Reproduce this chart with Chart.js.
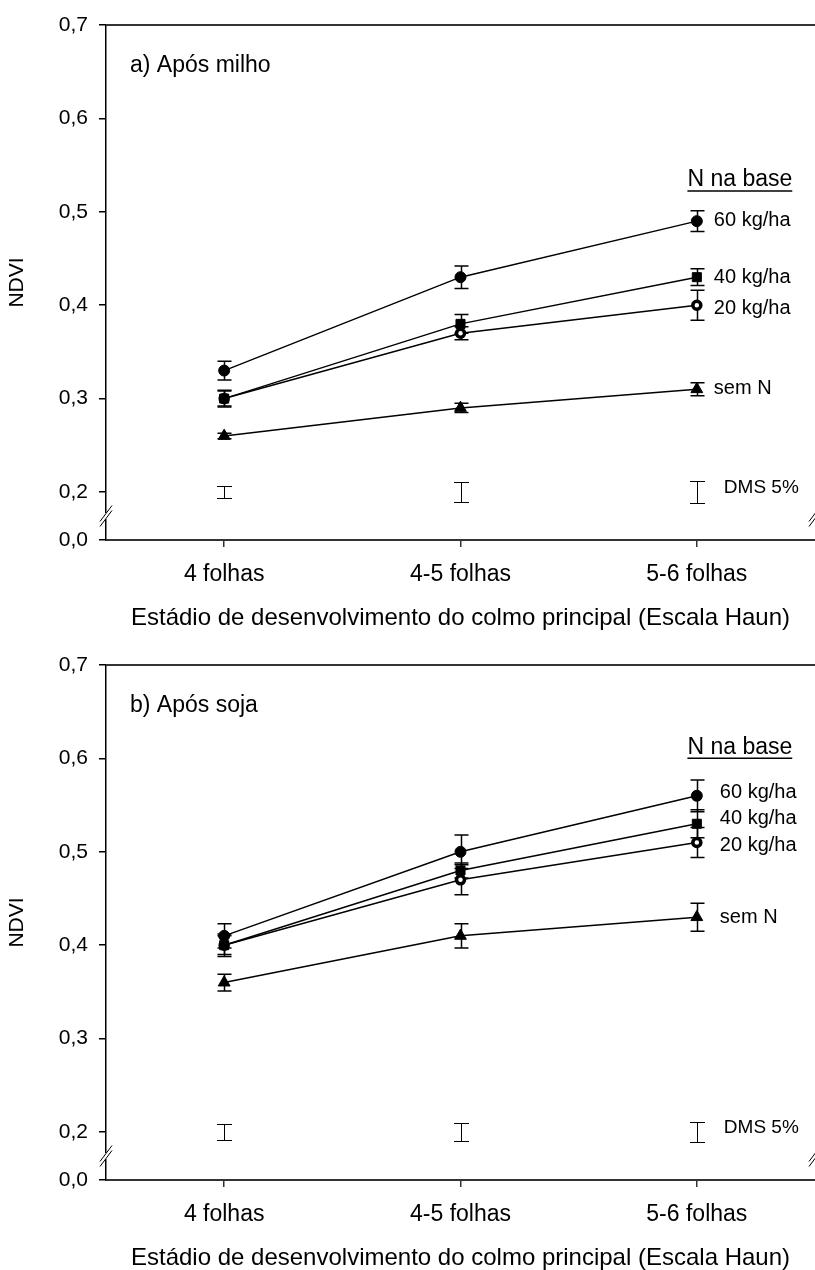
<!DOCTYPE html>
<html>
<head>
<meta charset="utf-8">
<script src="https://cdn.jsdelivr.net/npm/chart.js@4.4.1/dist/chart.umd.min.js"></script>
<style>
  html, body { margin: 0; padding: 0; background: #fff; width: 815px; height: 1270px; overflow: hidden; }
  .panel { position: absolute; left: 0; width: 815px; height: 640px; }
</style>
</head>
<body>
<div class="panel" style="top:0"><canvas id="chartA" width="815" height="640"></canvas></div>
<div class="panel" style="top:640px"><canvas id="chartB" width="815" height="640"></canvas></div>
<script>
const stages = ['4 folhas', '4-5 folhas', '5-6 folhas'];
const seriesNames = ['60 kg/ha', '40 kg/ha', '20 kg/ha', 'sem N'];
const yTicks = [0.2, 0.3, 0.4, 0.5, 0.6, 0.7];
const yFloor = 0.1486;   // shown as "0,0" below the axis break
const dmsCenter = 0.2;

// a) Após milho
const milho60 = [0.33, 0.43, 0.49];
const milho40 = [0.30, 0.38, 0.43];
const milho20 = [0.30, 0.37, 0.40];
const milhoSemN = [0.26, 0.29, 0.31];
const milho60Err = [0.010, 0.012, 0.011];
const milho40Err = [0.009, 0.010, 0.009];
const milho20Err = [0.008, 0.007, 0.016];
const milhoSemNErr = [0.003, 0.005, 0.007];
const milhoDms = [0.0065, 0.0105, 0.012];
const milhoLabelY = [0.491, 0.430, 0.397, 0.311];

// b) Após soja
const soja60 = [0.41, 0.50, 0.56];
const soja40 = [0.40, 0.48, 0.53];
const soja20 = [0.40, 0.47, 0.51];
const sojaSemN = [0.36, 0.41, 0.43];
const soja60Err = [0.013, 0.018, 0.017];
const soja40Err = [0.010, 0.008, 0.015];
const soja20Err = [0.012, 0.016, 0.016];
const sojaSemNErr = [0.009, 0.013, 0.015];
const sojaDms = [0.0085, 0.0095, 0.011];
const sojaLabelY = [0.564, 0.536, 0.507, 0.430];

const FONT = '"Liberation Sans", Arial, sans-serif';
Chart.defaults.font.family = FONT;
Chart.defaults.color = '#000';

function drawBar(ctx, x, yTop, yBot, cap) {
  x = Math.round(x) + 0.5;
  ctx.beginPath();
  ctx.moveTo(x, yTop); ctx.lineTo(x, yBot);
  ctx.moveTo(x - cap, yTop); ctx.lineTo(x + cap, yTop);
  ctx.moveTo(x - cap, yBot); ctx.lineTo(x + cap, yBot);
  ctx.stroke();
}

function drawBreak(ctx, x, y) {
  ctx.fillStyle = '#fff';
  ctx.fillRect(x - 3, y - 3, 6, 6);
  ctx.strokeStyle = '#000';
  ctx.lineWidth = 1;
  [-2.5, 2.5].forEach(d => {
    ctx.beginPath();
    ctx.moveTo(x - 6, y + 8 + d);
    ctx.lineTo(x + 6, y - 8 + d);
    ctx.stroke();
  });
}

const panelExtras = {
  id: 'panelExtras',
  beforeDatasetsDraw(chart, args, opts) {
    const ctx = chart.ctx, xs = chart.scales.x, ys = chart.scales.y;
    ctx.save();
    ctx.strokeStyle = '#000';
    ctx.lineWidth = 1.5;
    opts.errors.forEach((errs, d) => {
      const vals = chart.data.datasets[d].data;
      errs.forEach((e, i) => {
        drawBar(ctx, xs.getPixelForValue(i), ys.getPixelForValue(vals[i] + e), ys.getPixelForValue(vals[i] - e), 7);
      });
    });
    ctx.lineWidth = 1;
    opts.dms.forEach((e, i) => {
      drawBar(ctx, xs.getPixelForValue(i), Math.round(ys.getPixelForValue(dmsCenter + e)) + 0.5,
        Math.round(ys.getPixelForValue(dmsCenter - e)) + 0.5, 7.5);
    });
    ctx.restore();
  },
  afterDraw(chart, args, opts) {
    const ctx = chart.ctx, xs = chart.scales.x, ys = chart.scales.y;
    const area = chart.chartArea;
    const lastX = xs.getPixelForValue(stages.length - 1);
    ctx.save();

    // top frame
    ctx.strokeStyle = '#333';
    ctx.lineWidth = 2;
    ctx.beginPath();
    ctx.moveTo(area.left, area.top);
    ctx.lineTo(area.right, area.top);
    ctx.stroke();

    // axis breaks
    const yBreak = (ys.getPixelForValue(0.2) + area.bottom) / 2;
    drawBreak(ctx, area.left, yBreak);
    drawBreak(ctx, area.right, yBreak);

    ctx.fillStyle = '#000';
    ctx.textBaseline = 'middle';

    ctx.font = '23px ' + FONT;
    ctx.textAlign = 'left';
    ctx.fillText(opts.title, area.left + 24, ys.getPixelForValue(0.657));

    // legend header
    ctx.font = '23px ' + FONT;
    ctx.textAlign = 'center';
    const hx = lastX + 43, hy = ys.getPixelForValue(opts.headerY);
    ctx.fillText('N na base', hx, hy);
    const hw = ctx.measureText('N na base').width;
    ctx.strokeStyle = '#000';
    ctx.lineWidth = 1.5;
    ctx.beginPath();
    ctx.moveTo(hx - hw / 2, hy + 11);
    ctx.lineTo(hx + hw / 2, hy + 11);
    ctx.stroke();

    ctx.font = '20px ' + FONT;
    ctx.textAlign = 'left';
    seriesNames.forEach((name, k) => {
      ctx.fillText(name, lastX + opts.labelDx, ys.getPixelForValue(opts.labelY[k]));
    });

    ctx.font = '19px ' + FONT;
    ctx.fillText('DMS 5%', lastX + 27, ys.getPixelForValue(0.2045));
    ctx.restore();
  }
};

function makePanel(id, title, series, errors, dms, labelY, headerY, labelDx) {
  const markers = [
    { pointStyle: 'circle', pointRadius: 5.5, pointBackgroundColor: '#000', pointBorderWidth: 1 },
    { pointStyle: 'rect', pointRadius: 6.4, pointBackgroundColor: '#000', pointBorderWidth: 1 },
    { pointStyle: 'circle', pointRadius: 4, pointBackgroundColor: '#fff', pointBorderWidth: 3.5 },
    { pointStyle: 'triangle', pointRadius: 6.8, pointBackgroundColor: '#000', pointBorderWidth: 1 }
  ];
  return new Chart(document.getElementById(id).getContext('2d'), {
    type: 'line',
    plugins: [panelExtras],
    data: {
      labels: stages,
      datasets: series.map((vals, k) => Object.assign({
        label: seriesNames[k],
        data: vals,
        borderColor: '#000',
        borderWidth: 1.5,
        pointBorderColor: '#000',
        tension: 0,
        fill: false
      }, markers[k]))
    },
    options: {
      responsive: false,
      animation: false,
      devicePixelRatio: 1,
      events: [],
      layout: { autoPadding: false, padding: { top: 25, right: 0, bottom: 0, left: 0 } },
      plugins: {
        legend: { display: false },
        tooltip: { enabled: false },
        panelExtras: { title: title, errors: errors, dms: dms, labelY: labelY, headerY: headerY, labelDx: labelDx }
      },
      scales: {
        x: {
          type: 'category',
          offset: true,
          grid: { offset: false, drawOnChartArea: false, tickLength: 7, color: '#333', lineWidth: 1.5 },
          border: { display: true, color: '#333', width: 2 },
          ticks: { font: { size: 23 }, padding: 14, maxRotation: 0, autoSkip: false },
          title: {
            display: true,
            text: 'Estádio de desenvolvimento do colmo principal (Escala Haun)',
            font: { size: 24 },
            padding: { top: 0, bottom: 7 }
          },
          afterFit: scale => {
            scale.height = 100;
            scale.paddingLeft = 0;
            scale.paddingRight = 0;
          }
        },
        y: {
          min: yFloor,
          max: 0.7,
          grid: { drawOnChartArea: false, tickLength: 7, color: '#000', lineWidth: 1.5 },
          border: { display: true, color: '#000', width: 1.5 },
          afterBuildTicks: scale => {
            scale.ticks = [yFloor].concat(yTicks).map(v => ({ value: v }));
          },
          ticks: {
            font: { size: 21 },
            padding: 11,
            callback: v => v < 0.2 ? '0,0' : v.toFixed(1).replace('.', ',')
          },
          title: { display: true, text: 'NDVI', font: { size: 21 }, padding: { top: 5, bottom: 0 } },
          afterFit: scale => { scale.width = 106; }
        }
      }
    }
  });
}

makePanel('chartA', 'a) Após milho',
  [milho60, milho40, milho20, milhoSemN],
  [milho60Err, milho40Err, milho20Err, milhoSemNErr],
  milhoDms, milhoLabelY, 0.534, 17);

makePanel('chartB', 'b) Após soja',
  [soja60, soja40, soja20, sojaSemN],
  [soja60Err, soja40Err, soja20Err, sojaSemNErr],
  sojaDms, sojaLabelY, 0.612, 23);
</script>
</body>
</html>
